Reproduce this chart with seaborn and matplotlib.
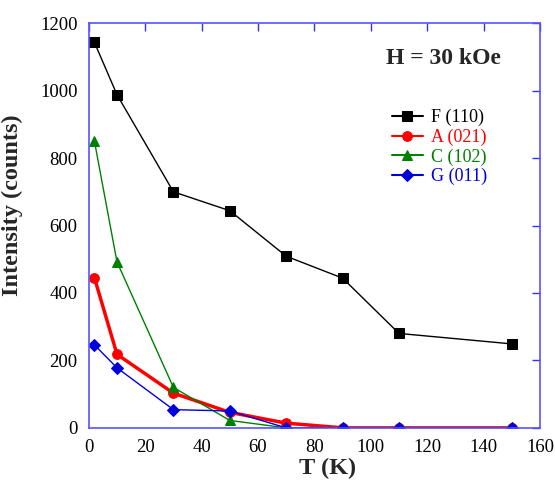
import matplotlib
matplotlib.use("Agg")
import matplotlib.pyplot as plt
import seaborn as sns
import pandas as pd

T = [2, 10, 30, 50, 70, 90, 110, 150]
F_110 = [1143, 988, 700, 644, 509, 444, 280, 249]
A_021 = [445, 218, 103, 46, 14, 0, 0, 0]
C_102 = [850, 492, 120, 22, 0, 0, 0, 0]
G_011 = [246, 178, 54, 50, 0, 0, 0, 0]

labels = ["F (110)", "A (021)", "C (102)", "G (011)"]
colors = ["black", "#ff0000", "#008000", "#0000dd"]
markers = ["s", "o", "^", "D"]
widths = [1.0, 2.5, 1.0, 1.0]
sizes = [7, 7, 7.5, 6.5]

sns.set_theme(style="white")
plt.rcParams["font.family"] = ["Liberation Serif", "DejaVu Serif"]

fig = plt.figure(figsize=(5.55, 4.84), dpi=100)
ax = fig.add_axes([0.160, 0.116, 0.813, 0.836])

series = [F_110, A_021, C_102, G_011]
for vals, lab, c, m, w, s in zip(series, labels, colors, markers, widths, sizes):
    df = pd.DataFrame({"T": T, "I": vals})
    sns.lineplot(data=df, x="T", y="I", ax=ax, color=c, marker=m, lw=w,
                 markersize=s, markeredgecolor=c, label=lab)

ax.set_xlim(0, 160)
ax.set_ylim(0, 1200)
ax.set_xticks(range(0, 161, 20))
ax.set_yticks(range(0, 1201, 200))
spine_c = "#5555ff"
for sp in ax.spines.values():
    sp.set_color(spine_c)
    sp.set_linewidth(1.2)
ax.tick_params(direction="in", top=True, right=True, color="#3333ee",
               length=6, width=1, labelsize=13.5, labelcolor="black", pad=8)
ax.set_xlabel("T (K)", fontsize=17.5, fontweight="bold")
ax.set_ylabel("Intensity (counts)", fontsize=17.5, fontweight="bold")
ax.xaxis.set_label_coords(0.53, -0.075)
ax.yaxis.set_label_coords(-0.145, 0.55)

ax.text(0.785, 0.914, "H = 30 kOe", transform=ax.transAxes, fontsize=17,
        fontweight="bold", ha="center", va="center")

leg = ax.legend(loc="upper left", bbox_to_anchor=(0.672, 0.788), frameon=False,
                fontsize=13, handlelength=1.7, handletextpad=0.45,
                labelspacing=0.13, borderaxespad=0, borderpad=0)
for txt, c in zip(leg.get_texts(), colors):
    txt.set_color(c)
for h in leg.get_lines():
    h.set_linewidth(1.5)

fig.savefig("out.png", dpi=100)
